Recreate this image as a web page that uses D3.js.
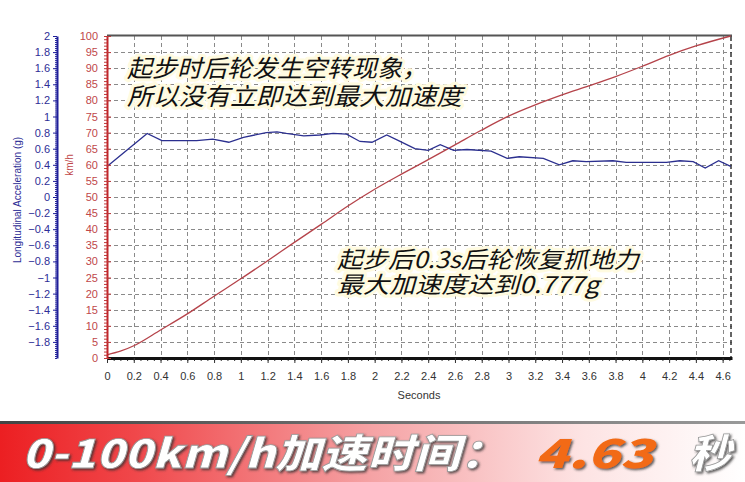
<!DOCTYPE html>
<html>
<head>
<meta charset="utf-8">
<script src="https://cdn.jsdelivr.net/npm/d3@7"></script>
<style>
  body { margin: 0; background: #fff; }
  svg { display: block; }
</style>
</head>
<body>
<div id="chart"></div>
<script>
// speed curve (km/h)
const speedTime = [0, 0.1, 0.2, 0.4, 0.6, 0.8, 1.0, 1.2, 1.4, 1.6, 1.8, 2.0, 2.2, 2.4, 2.6, 2.8, 3.0, 3.2, 3.4, 3.6, 3.8, 4.0, 4.2, 4.4, 4.66];
const speedKmh  = [1, 2.1, 3.8, 8.7, 13.7, 19.2, 24.6, 30.2, 35.9, 41.5, 47.2, 52.4, 57.1, 61.6, 66.2, 70.8, 75.1, 78.6, 81.7, 84.5, 87.4, 90.6, 94.0, 96.9, 100];

// longitudinal acceleration (g)
const accelTime = [0, 0.30, 0.41, 0.67, 0.79, 0.91, 1.02, 1.19, 1.27, 1.34, 1.47, 1.59, 1.69, 1.79, 1.89, 1.98, 2.09, 2.19, 2.30, 2.40, 2.49, 2.59, 2.69, 2.87, 2.99, 3.08, 3.26, 3.38, 3.48, 3.58, 3.78, 3.88, 4.18, 4.28, 4.38, 4.47, 4.57, 4.66];
const accelG    = [0.38, 0.79, 0.70, 0.70, 0.72, 0.68, 0.74, 0.80, 0.81, 0.79, 0.76, 0.77, 0.79, 0.78, 0.69, 0.68, 0.77, 0.69, 0.60, 0.58, 0.65, 0.58, 0.59, 0.57, 0.48, 0.50, 0.48, 0.40, 0.45, 0.44, 0.45, 0.43, 0.43, 0.45, 0.44, 0.36, 0.45, 0.38];

const secondTicks = [0, 0.2, 0.4, 0.6, 0.8, 1, 1.2, 1.4, 1.6, 1.8, 2, 2.2, 2.4, 2.6, 2.8, 3, 3.2, 3.4, 3.6, 3.8, 4, 4.2, 4.4, 4.6];
const kmhTicks = [0, 5, 10, 15, 20, 25, 30, 35, 40, 45, 50, 55, 60, 65, 70, 75, 80, 85, 90, 95, 100];
const gTicks = [-1.8, -1.6, -1.4, -1.2, -1, -0.8, -0.6, -0.4, -0.2, 0, 0.2, 0.4, 0.6, 0.8, 1, 1.2, 1.4, 1.6, 1.8, 2];

const note1 = ["起步时后轮发生空转现象，", "所以没有立即达到最大加速度"];
const note2 = ["起步后0.3s后轮恢复抓地力", "最大加速度达到0.777g"];
const banner = {label: "0-100km/h加速时间：", value: "4.63", unit: "秒"};

const W = 745, H = 482;
const plot = {left: 107, right: 732, top: 36, bottom: 358};

const svg = d3.select("#chart").append("svg")
    .attr("width", W)
    .attr("height", H)
    .style("font-family", "'Liberation Sans', Arial, sans-serif");

const defs = svg.append("defs");

const x = d3.scaleLinear().domain([0, 4.67]).range([plot.left, plot.right]);
const ySpeed = d3.scaleLinear().domain([0, 100]).range([plot.bottom, plot.top]);
const yAcc = d3.scaleLinear().domain([-2, 2]).range([plot.bottom, plot.top]);

// dashed grid
const grid = svg.append("g").attr("stroke", "#8a8a8a").attr("stroke-dasharray", "4,3").attr("stroke-width", 1);
grid.selectAll("line.v")
  .data(secondTicks.filter(d => d > 0))
  .join("line")
    .attr("class", "v")
    .attr("x1", d => Math.round(x(d)) + 0.5)
    .attr("x2", d => Math.round(x(d)) + 0.5)
    .attr("y1", plot.top)
    .attr("y2", plot.bottom);
grid.selectAll("line.h")
  .data(kmhTicks.filter(d => d > 0 && d < 100))
  .join("line")
    .attr("class", "h")
    .attr("x1", plot.left)
    .attr("x2", plot.right)
    .attr("y1", d => Math.round(ySpeed(d)) + 0.5)
    .attr("y2", d => Math.round(ySpeed(d)) + 0.5);

// frame: solid top, dashed right
svg.append("line")
    .attr("x1", plot.left).attr("x2", plot.right)
    .attr("y1", plot.top - 0.5).attr("y2", plot.top - 0.5)
    .attr("stroke", "#555").attr("stroke-width", 2);
svg.append("line")
    .attr("x1", plot.right - 1).attr("x2", plot.right - 1)
    .attr("y1", plot.top).attr("y2", plot.bottom)
    .attr("stroke", "#333").attr("stroke-width", 1.5).attr("stroke-dasharray", "5,3");

// lines
const speedLine = d3.line().x((d, i) => x(speedTime[i])).y(d => ySpeed(d)).curve(d3.curveMonotoneX);
svg.append("path")
    .datum(speedKmh)
    .attr("d", speedLine)
    .attr("fill", "none")
    .attr("stroke", "#b5434a")
    .attr("stroke-width", 1.3);

const accelLine = d3.line().x((d, i) => x(accelTime[i])).y(d => yAcc(d));
svg.append("path")
    .datum(accelG)
    .attr("d", accelLine)
    .attr("fill", "none")
    .attr("stroke", "#2b2f8f")
    .attr("stroke-width", 1.3);

// x axis
const xMinor = svg.append("g")
    .attr("transform", `translate(0,${plot.bottom})`)
    .call(d3.axisBottom(x).tickValues(d3.range(0, 4.66, 0.05)).tickSize(3).tickFormat(""));
xMinor.select(".domain").remove();
xMinor.selectAll("line").attr("stroke", "#333");

const xAxis = svg.append("g")
    .attr("transform", `translate(0,${plot.bottom})`)
    .call(d3.axisBottom(x).tickValues(secondTicks).tickSize(5).tickPadding(9).tickSizeOuter(0).tickFormat(d => d3.format("~g")(d)));
xAxis.select(".domain").attr("stroke", "#111").attr("stroke-width", 3);
xAxis.selectAll("line").attr("stroke", "#333");
xAxis.selectAll("text").attr("fill", "#333").style("font-size", "11px");

svg.append("text")
    .attr("x", 419).attr("y", 399)
    .attr("text-anchor", "middle")
    .attr("fill", "#333")
    .style("font-size", "11px")
    .text("Seconds");

// red km/h axis
const rMinor = svg.append("g")
    .attr("transform", `translate(${plot.left},0)`)
    .call(d3.axisLeft(ySpeed).tickValues(d3.range(0, 101, 1)).tickSize(3).tickFormat(""));
rMinor.select(".domain").remove();
rMinor.selectAll("line").attr("stroke", "#c0393b");

const rAxis = svg.append("g")
    .attr("transform", `translate(${plot.left},0)`)
    .call(d3.axisLeft(ySpeed).tickValues(kmhTicks).tickSize(6).tickPadding(3).tickSizeOuter(0));
rAxis.select(".domain").attr("stroke", "#c0262b").attr("stroke-width", 2);
rAxis.selectAll("line").attr("stroke", "#c0393b");
rAxis.selectAll("text").attr("fill", "#c0474a").style("font-size", "11px");
rAxis.selectAll(".tick line").attr("x2", 4);

svg.append("text")
    .attr("transform", "translate(73,165) rotate(-90)")
    .attr("text-anchor", "middle")
    .attr("fill", "#c0474a")
    .style("font-size", "10px")
    .text("km/h");

// blue g axis
const bMinor = svg.append("g")
    .attr("transform", "translate(57,0)")
    .call(d3.axisLeft(yAcc).tickValues(d3.range(-2, 2.001, 0.025)).tickSize(2).tickFormat(""));
bMinor.select(".domain").remove();
bMinor.selectAll("line").attr("stroke", "#23239a");

const bAxis = svg.append("g")
    .attr("transform", "translate(57,0)")
    .call(d3.axisLeft(yAcc).tickValues(gTicks).tickSize(4).tickPadding(3).tickSizeOuter(0).tickFormat(d => d3.format("~g")(d)));
bAxis.select(".domain").attr("stroke", "#1f1f99").attr("stroke-width", 2);
bAxis.selectAll("line").attr("stroke", "#1f1f99");
bAxis.selectAll("text").attr("fill", "#2e2e96").style("font-size", "11px");

svg.append("text")
    .attr("transform", "translate(21,200) rotate(-90)")
    .attr("text-anchor", "middle")
    .attr("fill", "#2e2e96")
    .style("font-size", "10px")
    .text("Longitudinal Acceleration (g)");

// annotations, one text per line, stretched to the reference widths
function note(lines, widths, x0, y0, gap, size) {
  svg.append("g").selectAll("text")
    .data(lines)
    .join("text")
      .attr("x", x0)
      .attr("y", (d, i) => y0 + i * gap)
      .attr("textLength", (d, i) => widths[i])
      .attr("lengthAdjust", "spacingAndGlyphs")
      .attr("fill", "#111")
      .attr("stroke", "#fffbe0")
      .attr("stroke-width", 6)
      .attr("stroke-linejoin", "round")
      .attr("paint-order", "stroke")
      .style("font-family", "'Noto Sans CJK SC', sans-serif")
      .style("font-style", "italic")
      .style("font-size", size + "px")
      .text(d => d);
}
note(note1, [300, 335], 127, 77, 28, 24);
note(note2, [302, 262], 337, 268, 25, 23);

// bottom banner
const grad = defs.append("linearGradient").attr("id", "bannerGrad");
grad.append("stop").attr("offset", "0%").attr("stop-color", "#ec1f22");
grad.append("stop").attr("offset", "18%").attr("stop-color", "#f0474a");
grad.append("stop").attr("offset", "50%").attr("stop-color", "#f5a3a5");
grad.append("stop").attr("offset", "78%").attr("stop-color", "#fde3e3");
grad.append("stop").attr("offset", "100%").attr("stop-color", "#ffffff");

const shade = defs.append("linearGradient").attr("id", "shadeGrad");
shade.append("stop").attr("offset", "0%").attr("stop-color", "#444");
shade.append("stop").attr("offset", "100%").attr("stop-color", "#999");

const shadow = defs.append("filter").attr("id", "txtShadow")
    .attr("x", "-5%").attr("y", "-20%").attr("width", "110%").attr("height", "140%");
shadow.append("feDropShadow")
    .attr("dx", 1.5).attr("dy", 1.5).attr("stdDeviation", 1)
    .attr("flood-color", "#333").attr("flood-opacity", 0.8);

svg.append("rect")
    .attr("x", 0).attr("y", 424).attr("width", W).attr("height", H - 424)
    .attr("fill", "url(#bannerGrad)");
svg.append("rect")
    .attr("x", 0).attr("y", 421).attr("width", W).attr("height", 3)
    .attr("fill", "url(#shadeGrad)");

const bannerText = svg.append("g")
    .style("font-family", "'Noto Sans CJK SC', sans-serif")
    .style("font-weight", 900)
    .style("font-style", "italic")
    .style("font-size", "40px")
    .attr("filter", "url(#txtShadow)");

bannerText.append("text")
    .attr("x", 22).attr("y", 468)
    .attr("textLength", 484).attr("lengthAdjust", "spacingAndGlyphs")
    .attr("fill", "#fff").attr("stroke", "#999").attr("stroke-width", 0.8)
    .text(banner.label);
bannerText.append("text")
    .attr("x", 535).attr("y", 468)
    .attr("textLength", 118).attr("lengthAdjust", "spacingAndGlyphs")
    .attr("fill", "#f26a12")
    .text(banner.value);
bannerText.append("text")
    .attr("x", 689).attr("y", 468)
    .attr("textLength", 42).attr("lengthAdjust", "spacingAndGlyphs")
    .attr("fill", "#fff").attr("stroke", "#999").attr("stroke-width", 0.8)
    .text(banner.unit);
</script>
</body>
</html>
